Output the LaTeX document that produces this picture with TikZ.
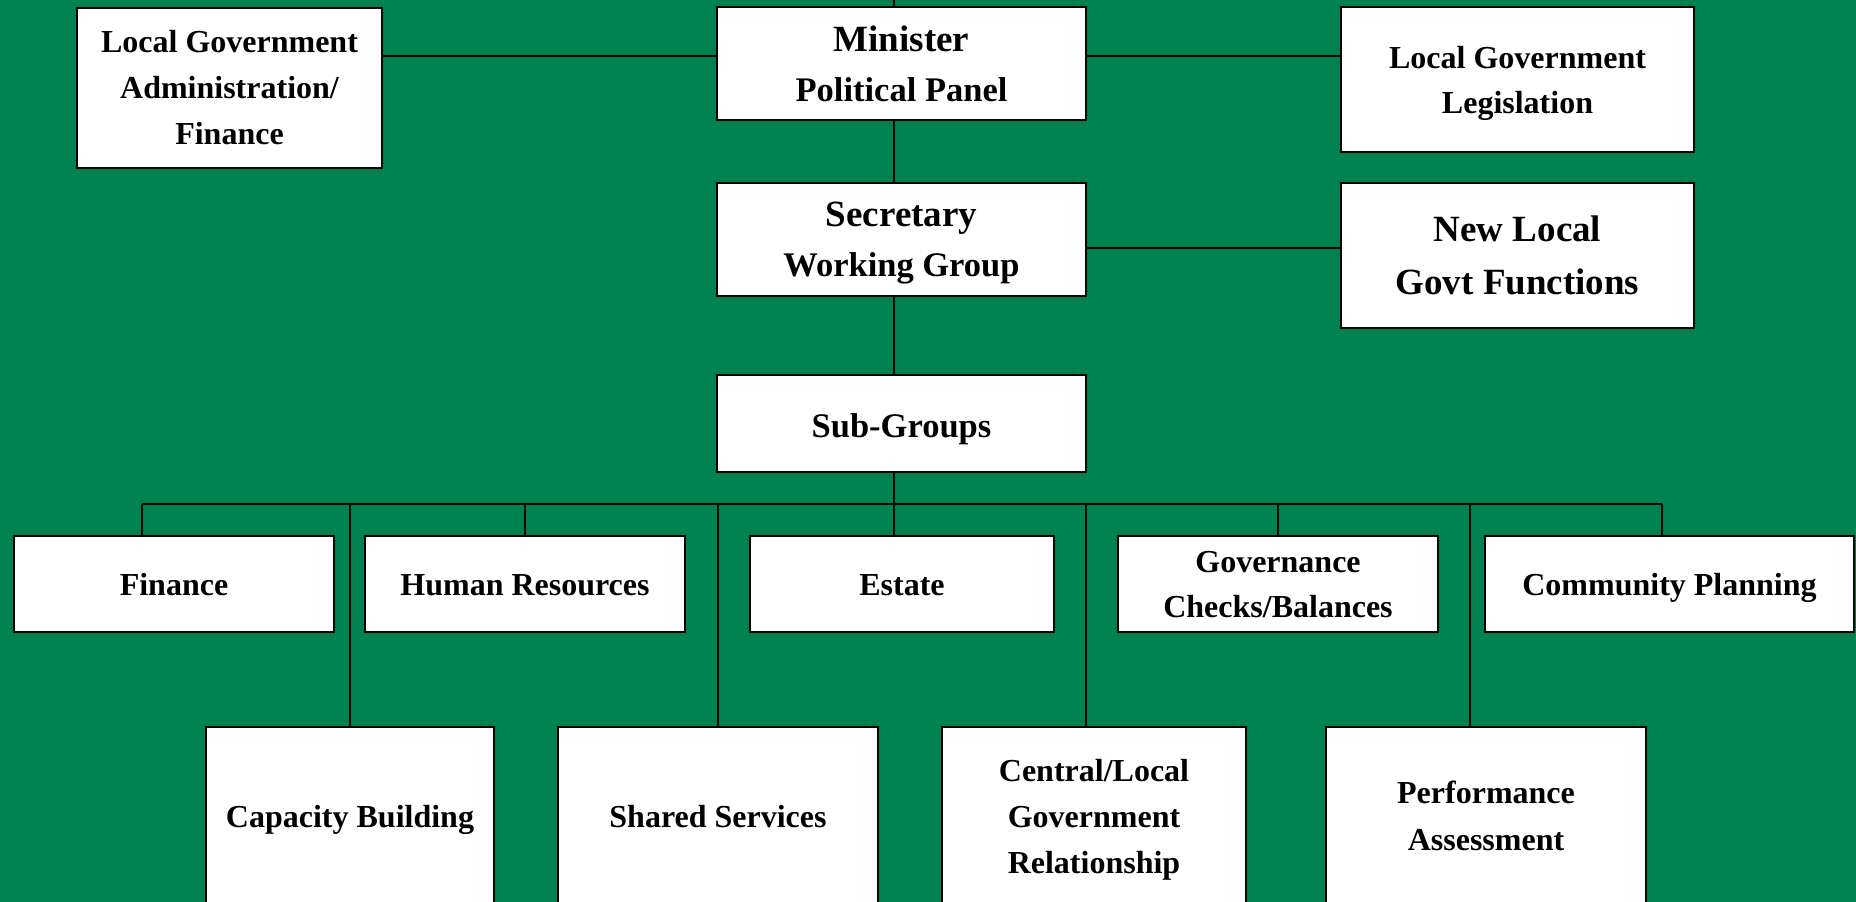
\documentclass[tikz,border=0pt]{standalone}
\usepackage{fontspec}
\setmainfont{Liberation Serif}
\definecolor{bg}{RGB}{0,130,80}
\begin{document}
\begin{tikzpicture}[x=1pt,y=-1pt,
  box/.style={draw=black,line width=2pt,fill=white,inner sep=0pt,align=center,
    font=\fontsize{32}{46}\selectfont\bfseries},
  sbox/.style={box,text height=22pt,text depth=0pt},
  bigbox/.style={box,font=\fontsize{37}{50}\selectfont\bfseries},
  con/.style={draw=black,line width=1.5pt}]
\path[use as bounding box] (0,0) rectangle (1856,902);
\fill[bg] (0,0) rectangle (1856,902);
\begin{scope}
\clip (0,0) rectangle (1856,902);
% top level
\node[box,minimum width=305pt,minimum height=160pt] (lga) at (229.5,88) {Local Government\\Administration/\\Finance};
\node[bigbox,minimum width=369pt,minimum height=113pt] (min) at (901.5,63.5) {Minister\\{\fontsize{34.5}{50}\selectfont Political Panel}};
\node[box,font=\fontsize{32}{45}\selectfont\bfseries,minimum width=353pt,minimum height=145pt] (lgl) at (1517.5,79.5) {Local Government\\\smash{Legislation}};
\node[bigbox,minimum width=369pt,minimum height=113pt] (sec) at (901.5,239.5) {Secretary\\\smash{\fontsize{34.5}{50}\selectfont Working Group}};
\node[bigbox,font=\fontsize{37}{53}\selectfont\bfseries,minimum width=353pt,minimum height=145pt] (nlg) at (1517.5,255.5) {New Local\\Govt Functions};
\node[sbox,text height=27pt,font=\fontsize{34.5}{46}\selectfont\bfseries,minimum width=369pt,minimum height=97pt] (sub) at (901.5,423.5) {Sub-Groups};
% second row
\node[sbox,minimum width=320pt,minimum height=96pt] (fin) at (174,584) {Finance};
\node[sbox,minimum width=320pt,minimum height=96pt] (hr) at (525,584) {Human Resources};
\node[sbox,minimum width=304pt,minimum height=96pt] (est) at (902,584) {Estate};
\node[box,font=\fontsize{32}{45}\selectfont\bfseries,minimum width=320pt,minimum height=96pt] (gov) at (1278,584) {Governance\\\smash{Checks/Balances}};
\node[sbox,minimum width=369pt,minimum height=96pt] (com) at (1669.5,584) {Community Planning};
% bottom row
\node[sbox,minimum width=288pt,minimum height=178pt] (cap) at (350,816) {Capacity Building};
\node[sbox,minimum width=320pt,minimum height=178pt] (sha) at (718,816) {Shared Services};
\node[box,minimum width=304pt,minimum height=178pt] (cen) at (1094,816) {Central/Local\\Government\\\smash{Relationship}};
\node[box,font=\fontsize{32}{47}\selectfont\bfseries,minimum width=320pt,minimum height=178pt] (per) at (1486,816) {Performance\\Assessment};
% connectors
\coordinate (tk) at (894,-5);
\coordinate (busL) at (142,504);
\coordinate (busR) at (1662,504);
\draw[con] (tk) -- (tk |- min.north);
\draw[con] (tk |- min.south) -- (tk |- sec.north);
\draw[con] (tk |- sec.south) -- (tk |- sub.north);
\draw[con] (tk |- sub.south) -- (tk |- busL);
\draw[con] (min.west |- 0,56) -- (lga.east |- 0,56);
\draw[con] (min.east |- 0,56) -- (lgl.west |- 0,56);
\draw[con] (sec.east |- 0,248) -- (nlg.west |- 0,248);
\draw[con] (busL) -- (busR);
\draw[con] (busL) -- (busL |- fin.north);
\draw[con] (hr.north |- busL) -- (hr.north);
\draw[con] (tk |- busL) -- (tk |- est.north);
\draw[con] (gov.north |- busL) -- (gov.north);
\draw[con] (busR) -- (busR |- com.north);
\draw[con] (cap.north |- busL) -- (cap.north);
\draw[con] (sha.north |- busL) -- (sha.north);
\draw[con] ([xshift=-8pt]cen.north |- busL) -- ([xshift=-8pt]cen.north);
\draw[con] ([xshift=-16pt]per.north |- busL) -- ([xshift=-16pt]per.north);
\end{scope}
\end{tikzpicture}
\end{document}
